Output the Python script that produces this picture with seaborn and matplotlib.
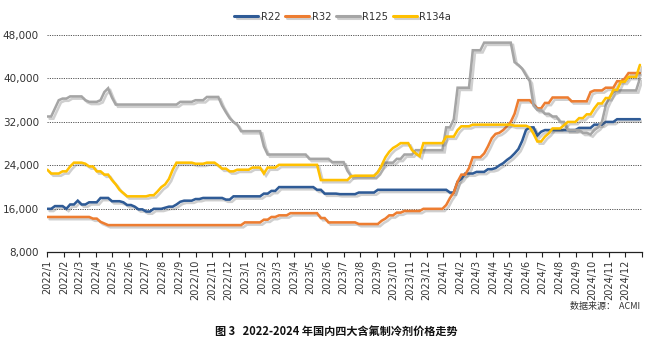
import numpy as np
import pandas as pd
import matplotlib
matplotlib.use("Agg")
import matplotlib.pyplot as plt
import matplotlib.dates as mdates
import matplotlib.patheffects as pe
from matplotlib.ticker import FuncFormatter
import seaborn as sns

# Weekly prices (yuan/ton), one value per week from 2022-01-01 to 2024-12-28
weeks = pd.date_range("2022-01-01", "2024-12-28", freq="7D")

r22 = [
    16000, 16000, 16500, 16500, 16500, 16000, 16800, 16800, 17500, 16800, 16800, 17200, 17200,
    17200, 18000, 18000, 18000, 17400, 17400, 17400, 17200, 16700, 16700, 16400, 15900, 15900,
    15500, 15500, 16000, 16000, 16000, 16200, 16400, 16400, 16800, 17300, 17500, 17500, 17500,
    17800, 17800, 18000, 18000, 18000, 18000, 18000, 18000, 17700, 17700, 18300, 18300, 18300,
    18300, 18300, 18300, 18300, 18300, 18800, 18800, 19300, 19300, 20000, 20000, 20000, 20000,
    20000, 20000, 20000, 20000, 20000, 20000, 19500, 19500, 18800, 18800, 18800, 18800, 18700,
    18700, 18700, 18700, 18700, 19000, 19000, 19000, 19000, 19000, 19500, 19500, 19500, 19500,
    19500, 19500, 19500, 19500, 19500, 19500, 19500, 19500, 19500, 19500, 19500, 19500, 19500,
    19500, 19500, 19000, 19000, 21000, 21500, 22500, 22500, 22500, 22800, 22800, 22800, 23300,
    23300, 23500, 24000, 24400, 25000, 25500, 26200, 27000, 28500, 30500, 31000, 31000, 29500,
    30200, 30500, 30500, 30500, 30500, 30500, 30500, 30500, 30500, 30500, 30900, 30900, 30900,
    30900, 31500, 31500, 31500, 32000, 32000, 32000, 32500, 32500, 32500, 32500, 32500, 32500,
    32500,
]

r32 = [
    14500, 14500, 14500, 14500, 14500, 14500, 14500, 14500, 14500, 14500, 14500, 14500, 14200,
    14200, 13600, 13300, 13000, 13000, 13000, 13000, 13000, 13000, 13000, 13000, 13000, 13000,
    13000, 13000, 13000, 13000, 13000, 13000, 13000, 13000, 13000, 13000, 13000, 13000, 13000,
    13000, 13000, 13000, 13000, 13000, 13000, 13000, 13000, 13000, 13000, 13000, 13000, 13000,
    13500, 13500, 13500, 13500, 13500, 14000, 14000, 14500, 14500, 14800, 14800, 14800, 15200,
    15200, 15200, 15200, 15200, 15200, 15200, 15200, 14300, 14300, 13500, 13500, 13500, 13500,
    13500, 13500, 13500, 13500, 13200, 13200, 13200, 13200, 13200, 13200, 13800, 14200, 14800,
    14800, 15300, 15300, 15600, 15600, 15600, 15600, 15600, 16000, 16000, 16000, 16000, 16000,
    16000, 16700, 18000, 19000, 21000, 22300, 22300, 23500, 25500, 25500, 25500, 26200, 27500,
    29000, 29800, 30000, 30500, 31200, 32000, 33500, 36000, 36000, 36000, 36000, 35200, 34500,
    34500, 35500, 35500, 36500, 36500, 36500, 36500, 36500, 35800, 35800, 35800, 35800, 35800,
    37500, 37800, 37800, 37800, 38300, 38300, 38300, 39500, 39500, 40000, 41000, 41000, 41000,
    41000,
]

r125 = [
    33000, 33000, 34500, 36000, 36300, 36300, 36700, 36700, 36700, 36700, 36000, 35700, 35700,
    35700, 36000, 37500, 38200, 36500, 35200, 35200, 35200, 35200, 35200, 35200, 35200, 35200,
    35200, 35200, 35200, 35200, 35200, 35200, 35200, 35200, 35200, 35700, 35700, 35700, 35700,
    36000, 36000, 36000, 36600, 36600, 36600, 36600, 35000, 33800, 32700, 32000, 31500, 30300,
    30300, 30300, 30300, 30300, 30300, 27500, 26000, 26000, 26000, 26000, 26000, 26000, 26000,
    26000, 26000, 26000, 26000, 25200, 25200, 25200, 25200, 25200, 25200, 24600, 24600, 24600,
    24600, 23000, 22000, 22000, 22000, 22000, 22000, 22000, 22000, 22800, 23800, 24500, 24500,
    24500, 25200, 25200, 26000, 26000, 26000, 26800, 26800, 26800, 26800, 26800, 26800, 26800,
    26800, 31000, 31000, 32500, 38300, 38300, 38300, 38300, 45200, 45200, 45200, 46600, 46600,
    46600, 46600, 46600, 46600, 46600, 46600, 43000, 42500, 41800, 40600, 39500, 35000, 34200,
    34200, 33500, 33500, 33000, 33000, 32000, 32000, 30500, 30500, 30500, 30500, 30000, 30000,
    29700, 30500, 31000, 32000, 35000, 36500, 37500, 37800, 37800, 37800, 37800, 37800, 37800,
    40000,
]

r134a = [
    23200, 22500, 22500, 22500, 22900, 22900, 23800, 24500, 24500, 24500, 24300, 23800, 23800,
    22900, 22900, 22300, 22300, 21300, 20500, 19500, 18900, 18300, 18300, 18300, 18300, 18300,
    18300, 18500, 18500, 19200, 20000, 20500, 21500, 23200, 24500, 24500, 24500, 24500, 24500,
    24300, 24300, 24300, 24500, 24500, 24500, 24000, 23400, 23400, 22900, 22900, 23200, 23200,
    23200, 23200, 23600, 23600, 23600, 22500, 23600, 23600, 23600, 24100, 24100, 24100, 24100,
    24100, 24100, 24100, 24100, 24100, 24100, 24100, 21300, 21300, 21300, 21300, 21300, 21300,
    21300, 21300, 22000, 22100, 22100, 22100, 22100, 22100, 22100, 22700, 24000, 25500, 26500,
    27200, 27600, 28100, 28100, 28100, 26800, 26200, 25700, 28100, 28100, 28100, 28100, 28100,
    28100, 29300, 29300, 29300, 30500, 31200, 31200, 31200, 31500, 31500, 31500, 31500, 31500,
    31500, 31500, 31500, 31500, 31500, 31500, 31300, 31300, 31300, 31300, 31000, 29800, 28400,
    28400, 29300, 29900, 30800, 30800, 30800, 31400, 32000, 32000, 32000, 32700, 32700, 33400,
    33400, 34500, 35400, 35400, 36400, 36400, 37900, 37900, 39400, 39400, 40300, 40300, 40300,
    42500,
]

series_names = ["R22", "R32", "R125", "R134a"]
series_colors = ["#2F5B96", "#ED7D31", "#A5A5A5", "#FFC000"]
y_ticks = [8000, 16000, 24000, 32000, 40000, 48000]
month_starts = pd.date_range("2022-01-01", "2025-01-01", freq="MS")
month_labels = [f"{d.year}/{d.month}" for d in month_starts[:-1]] + [""]

caption = "图 3   2022-2024 年国内四大含氟制冷剂价格走势"
source_note = "数据来源：  ACMI"

df = pd.concat(
    [pd.DataFrame({"date": weeks, "price": vals, "name": nm})
     for nm, vals in zip(series_names, [r22, r32, r125, r134a])],
    ignore_index=True,
)

sns.set_theme(style="white")
plt.rcParams["font.family"] = ["DejaVu Sans", "Noto Sans CJK SC"]

fig = plt.figure(figsize=(6.72, 3.47), dpi=100)
ax = fig.add_axes([0.0705, 0.273, 0.885, 0.626])

sns.lineplot(
    data=df, x="date", y="price", hue="name", hue_order=series_names,
    palette=series_colors, linewidth=1.85, ax=ax, legend=True,
)

shadow = [pe.SimpleLineShadow(offset=(1.6, -1.6), shadow_color="#555555", alpha=0.28),
          pe.Normal()]
for line in ax.lines:
    line.set_path_effects(shadow)
    line.set_solid_joinstyle("miter")

ax.set_xlim(pd.Timestamp("2022-01-01"), pd.Timestamp("2025-01-01"))
ax.set_ylim(8000, 48000)
ax.set_yticks(y_ticks)
ax.yaxis.set_major_formatter(FuncFormatter(lambda v, p: f"{int(v):,}"))
ax.set_xticks(month_starts)
ax.set_xticklabels(month_labels, rotation=90, fontsize=7, color="#333333")
ax.tick_params(axis="y", labelsize=7.5, labelcolor="#333333", length=0, pad=6)
ax.tick_params(axis="x", length=3.5, width=0.8, color="#222222", pad=2, bottom=True, direction="out")

ax.grid(axis="y", linestyle=(0, (1.2, 1.2)), color="#555555", linewidth=0.7)
ax.grid(axis="x", visible=False)
for side in ["top", "right", "left"]:
    ax.spines[side].set_visible(False)
ax.spines["bottom"].set_color("#222222")
ax.spines["bottom"].set_linewidth(0.9)
ax.set_xlabel("")
ax.set_ylabel("")

handles, labels = ax.get_legend_handles_labels()
for h in handles:
    h.set_linewidth(2.2)
ax.legend_.remove()
fig.legend(handles, labels, loc="center", bbox_to_anchor=(0.51, 0.952), ncol=4,
           frameon=False, fontsize=7.2, handlelength=2.4, handletextpad=0.25,
           columnspacing=0.45, labelcolor="#333333")

fig.text(0.953, 0.118, source_note, ha="right", va="center", fontsize=6.5,
         color="#333333", family=["Noto Sans CJK SC", "DejaVu Sans"])
fig.text(0.5, 0.045, caption, ha="center", va="center", fontsize=8,
         fontweight="bold", color="#111111", family=["Noto Sans CJK SC", "DejaVu Sans"])

fig.savefig("out.png", dpi=100)
